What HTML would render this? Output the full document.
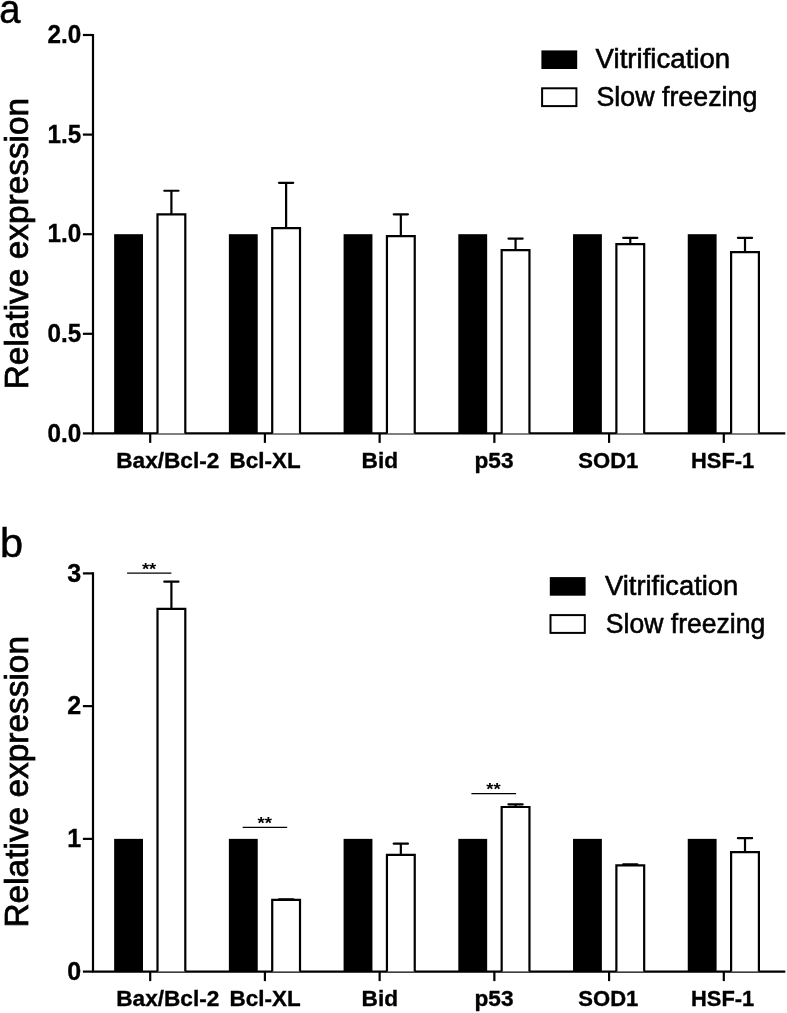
<!DOCTYPE html>
<html><head><meta charset="utf-8"><title>Relative expression</title>
<style>
html,body{margin:0;padding:0;background:#fff}
svg{display:block}
text{font-family:"Liberation Sans", Arial, sans-serif;fill:#000}
.tk{font-weight:bold;font-size:25px;stroke:#000;stroke-width:.35px}
.xl{font-weight:bold;font-size:22.5px;stroke:#000;stroke-width:.35px}
.lg{font-size:28.4px;stroke:#000;stroke-width:.6px}
.yl{font-size:33.2px;stroke:#000;stroke-width:.75px}
.pl{font-size:41.5px;stroke:#000;stroke-width:.5px}
.st{font-weight:bold;font-size:16px}
</style></head><body>
<svg width="787" height="1013" viewBox="0 0 787 1013">
<rect width="787" height="1013" fill="#fff"/>
<path d="M93.0 33.9 V433.4 H785.3" fill="none" stroke="#000" stroke-width="2.2"/>
<line x1="82.9" x2="93.0" y1="35.00" y2="35.00" stroke="#000" stroke-width="2.2"/>
<text x="81.2" y="43.10" text-anchor="end" class="tk" textLength="33.7" lengthAdjust="spacingAndGlyphs">2.0</text>
<line x1="82.9" x2="93.0" y1="134.60" y2="134.60" stroke="#000" stroke-width="2.2"/>
<text x="81.2" y="142.70" text-anchor="end" class="tk" textLength="33.7" lengthAdjust="spacingAndGlyphs">1.5</text>
<line x1="82.9" x2="93.0" y1="234.20" y2="234.20" stroke="#000" stroke-width="2.2"/>
<text x="81.2" y="242.30" text-anchor="end" class="tk" textLength="33.7" lengthAdjust="spacingAndGlyphs">1.0</text>
<line x1="82.9" x2="93.0" y1="333.80" y2="333.80" stroke="#000" stroke-width="2.2"/>
<text x="81.2" y="341.90" text-anchor="end" class="tk" textLength="33.7" lengthAdjust="spacingAndGlyphs">0.5</text>
<line x1="82.9" x2="93.0" y1="433.40" y2="433.40" stroke="#000" stroke-width="2.2"/>
<text x="81.2" y="441.50" text-anchor="end" class="tk" textLength="33.7" lengthAdjust="spacingAndGlyphs">0.0</text>
<line x1="150.20" x2="150.20" y1="433.4" y2="442.9" stroke="#000" stroke-width="2.2"/>
<rect x="114.15" y="234.20" width="28.85" height="199.20" fill="#000"/>
<path d="M157.50 433.4 V214.28 H185.30 V433.4" fill="#fff" stroke="#000" stroke-width="2.2" stroke-linejoin="miter"/>
<path d="M171.40 214.28 V190.77" fill="none" stroke="#000" stroke-width="2.2"/>
<path d="M164.30 190.77 H178.50" fill="none" stroke="#000" stroke-width="2.2" stroke-linecap="round"/>
<text x="116.30" y="468.0" class="xl" textLength="103.0" lengthAdjust="spacingAndGlyphs">Bax/Bcl-2</text>
<line x1="264.92" x2="264.92" y1="433.4" y2="442.9" stroke="#000" stroke-width="2.2"/>
<rect x="228.87" y="234.20" width="28.85" height="199.20" fill="#000"/>
<path d="M272.22 433.4 V228.22 H300.02 V433.4" fill="#fff" stroke="#000" stroke-width="2.2" stroke-linejoin="miter"/>
<path d="M286.12 228.22 V182.81" fill="none" stroke="#000" stroke-width="2.2"/>
<path d="M279.02 182.81 H293.22" fill="none" stroke="#000" stroke-width="2.2" stroke-linecap="round"/>
<text x="229.60" y="468.0" class="xl" textLength="71.0" lengthAdjust="spacingAndGlyphs">Bcl-XL</text>
<line x1="379.64" x2="379.64" y1="433.4" y2="442.9" stroke="#000" stroke-width="2.2"/>
<rect x="343.59" y="234.20" width="28.85" height="199.20" fill="#000"/>
<path d="M386.94 433.4 V236.19 H414.74 V433.4" fill="#fff" stroke="#000" stroke-width="2.2" stroke-linejoin="miter"/>
<path d="M400.84 236.19 V214.28" fill="none" stroke="#000" stroke-width="2.2"/>
<path d="M393.74 214.28 H407.94" fill="none" stroke="#000" stroke-width="2.2" stroke-linecap="round"/>
<text x="361.60" y="468.0" class="xl" textLength="36.5" lengthAdjust="spacingAndGlyphs">Bid</text>
<line x1="494.36" x2="494.36" y1="433.4" y2="442.9" stroke="#000" stroke-width="2.2"/>
<rect x="458.31" y="234.20" width="28.85" height="199.20" fill="#000"/>
<path d="M501.66 433.4 V250.14 H529.46 V433.4" fill="#fff" stroke="#000" stroke-width="2.2" stroke-linejoin="miter"/>
<path d="M515.56 250.14 V238.58" fill="none" stroke="#000" stroke-width="2.2"/>
<path d="M508.46 238.58 H522.66" fill="none" stroke="#000" stroke-width="2.2" stroke-linecap="round"/>
<text x="474.50" y="468.0" class="xl" textLength="39.0" lengthAdjust="spacingAndGlyphs">p53</text>
<line x1="609.08" x2="609.08" y1="433.4" y2="442.9" stroke="#000" stroke-width="2.2"/>
<rect x="573.03" y="234.20" width="28.85" height="199.20" fill="#000"/>
<path d="M616.38 433.4 V244.16 H644.18 V433.4" fill="#fff" stroke="#000" stroke-width="2.2" stroke-linejoin="miter"/>
<path d="M630.28 244.16 V237.79" fill="none" stroke="#000" stroke-width="2.2"/>
<path d="M623.18 237.79 H637.38" fill="none" stroke="#000" stroke-width="2.2" stroke-linecap="round"/>
<text x="578.30" y="468.0" class="xl" textLength="60.0" lengthAdjust="spacingAndGlyphs">SOD1</text>
<line x1="723.80" x2="723.80" y1="433.4" y2="442.9" stroke="#000" stroke-width="2.2"/>
<rect x="687.75" y="234.20" width="28.85" height="199.20" fill="#000"/>
<path d="M731.10 433.4 V252.13 H758.90 V433.4" fill="#fff" stroke="#000" stroke-width="2.2" stroke-linejoin="miter"/>
<path d="M745.00 252.13 V237.79" fill="none" stroke="#000" stroke-width="2.2"/>
<path d="M737.90 237.79 H752.10" fill="none" stroke="#000" stroke-width="2.2" stroke-linecap="round"/>
<text x="691.00" y="468.0" class="xl" textLength="63.2" lengthAdjust="spacingAndGlyphs">HSF-1</text>
<rect x="541.4" y="50.4" width="35.8" height="18.6" fill="#000"/>
<rect x="542.1" y="88.3" width="34.3" height="17.8" fill="#fff" stroke="#000" stroke-width="2"/>
<text x="595.6" y="68.3" class="lg" textLength="134.6" lengthAdjust="spacingAndGlyphs">Vitrification</text>
<text x="596.4" y="106.4" class="lg" textLength="161.0" lengthAdjust="spacingAndGlyphs">Slow freezing</text>
<text transform="translate(28 389.3) rotate(-90)" class="yl" textLength="291.5" lengthAdjust="spacingAndGlyphs">Relative expression</text>
<text x="-0.8" y="23.0" class="pl" textLength="21.2" lengthAdjust="spacingAndGlyphs">a</text>
<path d="M93.0 572.3 V971.6 H785.3" fill="none" stroke="#000" stroke-width="2.2"/>
<line x1="82.9" x2="93.0" y1="573.40" y2="573.40" stroke="#000" stroke-width="2.2"/>
<text x="81.2" y="581.50" text-anchor="end" class="tk">3</text>
<line x1="82.9" x2="93.0" y1="706.13" y2="706.13" stroke="#000" stroke-width="2.2"/>
<text x="81.2" y="714.23" text-anchor="end" class="tk">2</text>
<line x1="82.9" x2="93.0" y1="838.87" y2="838.87" stroke="#000" stroke-width="2.2"/>
<text x="81.2" y="846.97" text-anchor="end" class="tk">1</text>
<line x1="82.9" x2="93.0" y1="971.60" y2="971.60" stroke="#000" stroke-width="2.2"/>
<text x="81.2" y="979.70" text-anchor="end" class="tk">0</text>
<line x1="150.20" x2="150.20" y1="971.6" y2="981.1" stroke="#000" stroke-width="2.2"/>
<rect x="114.15" y="838.87" width="28.85" height="132.73" fill="#000"/>
<path d="M157.50 971.6 V608.89 H185.30 V971.6" fill="#fff" stroke="#000" stroke-width="2.2" stroke-linejoin="miter"/>
<path d="M171.40 608.89 V581.68" fill="none" stroke="#000" stroke-width="2.2"/>
<path d="M164.30 581.68 H178.50" fill="none" stroke="#000" stroke-width="2.2" stroke-linecap="round"/>
<text x="116.30" y="1006.2" class="xl" textLength="103.0" lengthAdjust="spacingAndGlyphs">Bax/Bcl-2</text>
<line x1="264.92" x2="264.92" y1="971.6" y2="981.1" stroke="#000" stroke-width="2.2"/>
<rect x="228.87" y="838.87" width="28.85" height="132.73" fill="#000"/>
<path d="M272.22 971.6 V899.92 H300.02 V971.6" fill="#fff" stroke="#000" stroke-width="2.2" stroke-linejoin="miter"/>
<path d="M286.12 899.92 V899.26" fill="none" stroke="#000" stroke-width="2.2"/>
<path d="M279.02 899.26 H293.22" fill="none" stroke="#000" stroke-width="2.2" stroke-linecap="round"/>
<text x="229.60" y="1006.2" class="xl" textLength="71.0" lengthAdjust="spacingAndGlyphs">Bcl-XL</text>
<line x1="379.64" x2="379.64" y1="971.6" y2="981.1" stroke="#000" stroke-width="2.2"/>
<rect x="343.59" y="838.87" width="28.85" height="132.73" fill="#000"/>
<path d="M386.94 971.6 V854.79 H414.74 V971.6" fill="#fff" stroke="#000" stroke-width="2.2" stroke-linejoin="miter"/>
<path d="M400.84 854.79 V843.70" fill="none" stroke="#000" stroke-width="2.2"/>
<path d="M393.74 843.70 H407.94" fill="none" stroke="#000" stroke-width="2.2" stroke-linecap="round"/>
<text x="361.60" y="1006.2" class="xl" textLength="36.5" lengthAdjust="spacingAndGlyphs">Bid</text>
<line x1="494.36" x2="494.36" y1="971.6" y2="981.1" stroke="#000" stroke-width="2.2"/>
<rect x="458.31" y="838.87" width="28.85" height="132.73" fill="#000"/>
<path d="M501.66 971.6 V807.01 H529.46 V971.6" fill="#fff" stroke="#000" stroke-width="2.2" stroke-linejoin="miter"/>
<path d="M515.56 807.01 V804.36" fill="none" stroke="#000" stroke-width="2.2"/>
<path d="M508.46 804.36 H522.66" fill="none" stroke="#000" stroke-width="2.2" stroke-linecap="round"/>
<text x="474.50" y="1006.2" class="xl" textLength="39.0" lengthAdjust="spacingAndGlyphs">p53</text>
<line x1="609.08" x2="609.08" y1="971.6" y2="981.1" stroke="#000" stroke-width="2.2"/>
<rect x="573.03" y="838.87" width="28.85" height="132.73" fill="#000"/>
<path d="M616.38 971.6 V865.41 H644.18 V971.6" fill="#fff" stroke="#000" stroke-width="2.2" stroke-linejoin="miter"/>
<path d="M630.28 865.41 V864.35" fill="none" stroke="#000" stroke-width="2.2"/>
<path d="M623.18 864.35 H637.38" fill="none" stroke="#000" stroke-width="2.2" stroke-linecap="round"/>
<text x="578.30" y="1006.2" class="xl" textLength="60.0" lengthAdjust="spacingAndGlyphs">SOD1</text>
<line x1="723.80" x2="723.80" y1="971.6" y2="981.1" stroke="#000" stroke-width="2.2"/>
<rect x="687.75" y="838.87" width="28.85" height="132.73" fill="#000"/>
<path d="M731.10 971.6 V852.14 H758.90 V971.6" fill="#fff" stroke="#000" stroke-width="2.2" stroke-linejoin="miter"/>
<path d="M745.00 852.14 V838.20" fill="none" stroke="#000" stroke-width="2.2"/>
<path d="M737.90 838.20 H752.10" fill="none" stroke="#000" stroke-width="2.2" stroke-linecap="round"/>
<text x="691.00" y="1006.2" class="xl" textLength="63.2" lengthAdjust="spacingAndGlyphs">HSF-1</text>
<line x1="127.1" x2="171.4" y1="573.05" y2="573.05" stroke="#000" stroke-width="1.3"/>
<text x="141.9" y="574.65" class="st" textLength="14.4" lengthAdjust="spacingAndGlyphs">**</text>
<line x1="242.7" x2="287.2" y1="827.3" y2="827.3" stroke="#000" stroke-width="1.3"/>
<text x="257.5" y="828.95" class="st" textLength="14.4" lengthAdjust="spacingAndGlyphs">**</text>
<line x1="471.4" x2="516.1" y1="793.7" y2="793.7" stroke="#000" stroke-width="1.3"/>
<text x="486.2" y="795.35" class="st" textLength="14.4" lengthAdjust="spacingAndGlyphs">**</text>
<rect x="549.8" y="577.1" width="35.8" height="18.6" fill="#000"/>
<rect x="550.5" y="615.1" width="34.3" height="17.8" fill="#fff" stroke="#000" stroke-width="2"/>
<text x="605.0" y="595.3" class="lg" textLength="133.3" lengthAdjust="spacingAndGlyphs">Vitrification</text>
<text x="605.8" y="633.0" class="lg" textLength="159.5" lengthAdjust="spacingAndGlyphs">Slow freezing</text>
<text transform="translate(28 927.5) rotate(-90)" class="yl" textLength="291.5" lengthAdjust="spacingAndGlyphs">Relative expression</text>
<text x="0.0" y="557.0" class="pl">b</text>
</svg>
</body></html>
